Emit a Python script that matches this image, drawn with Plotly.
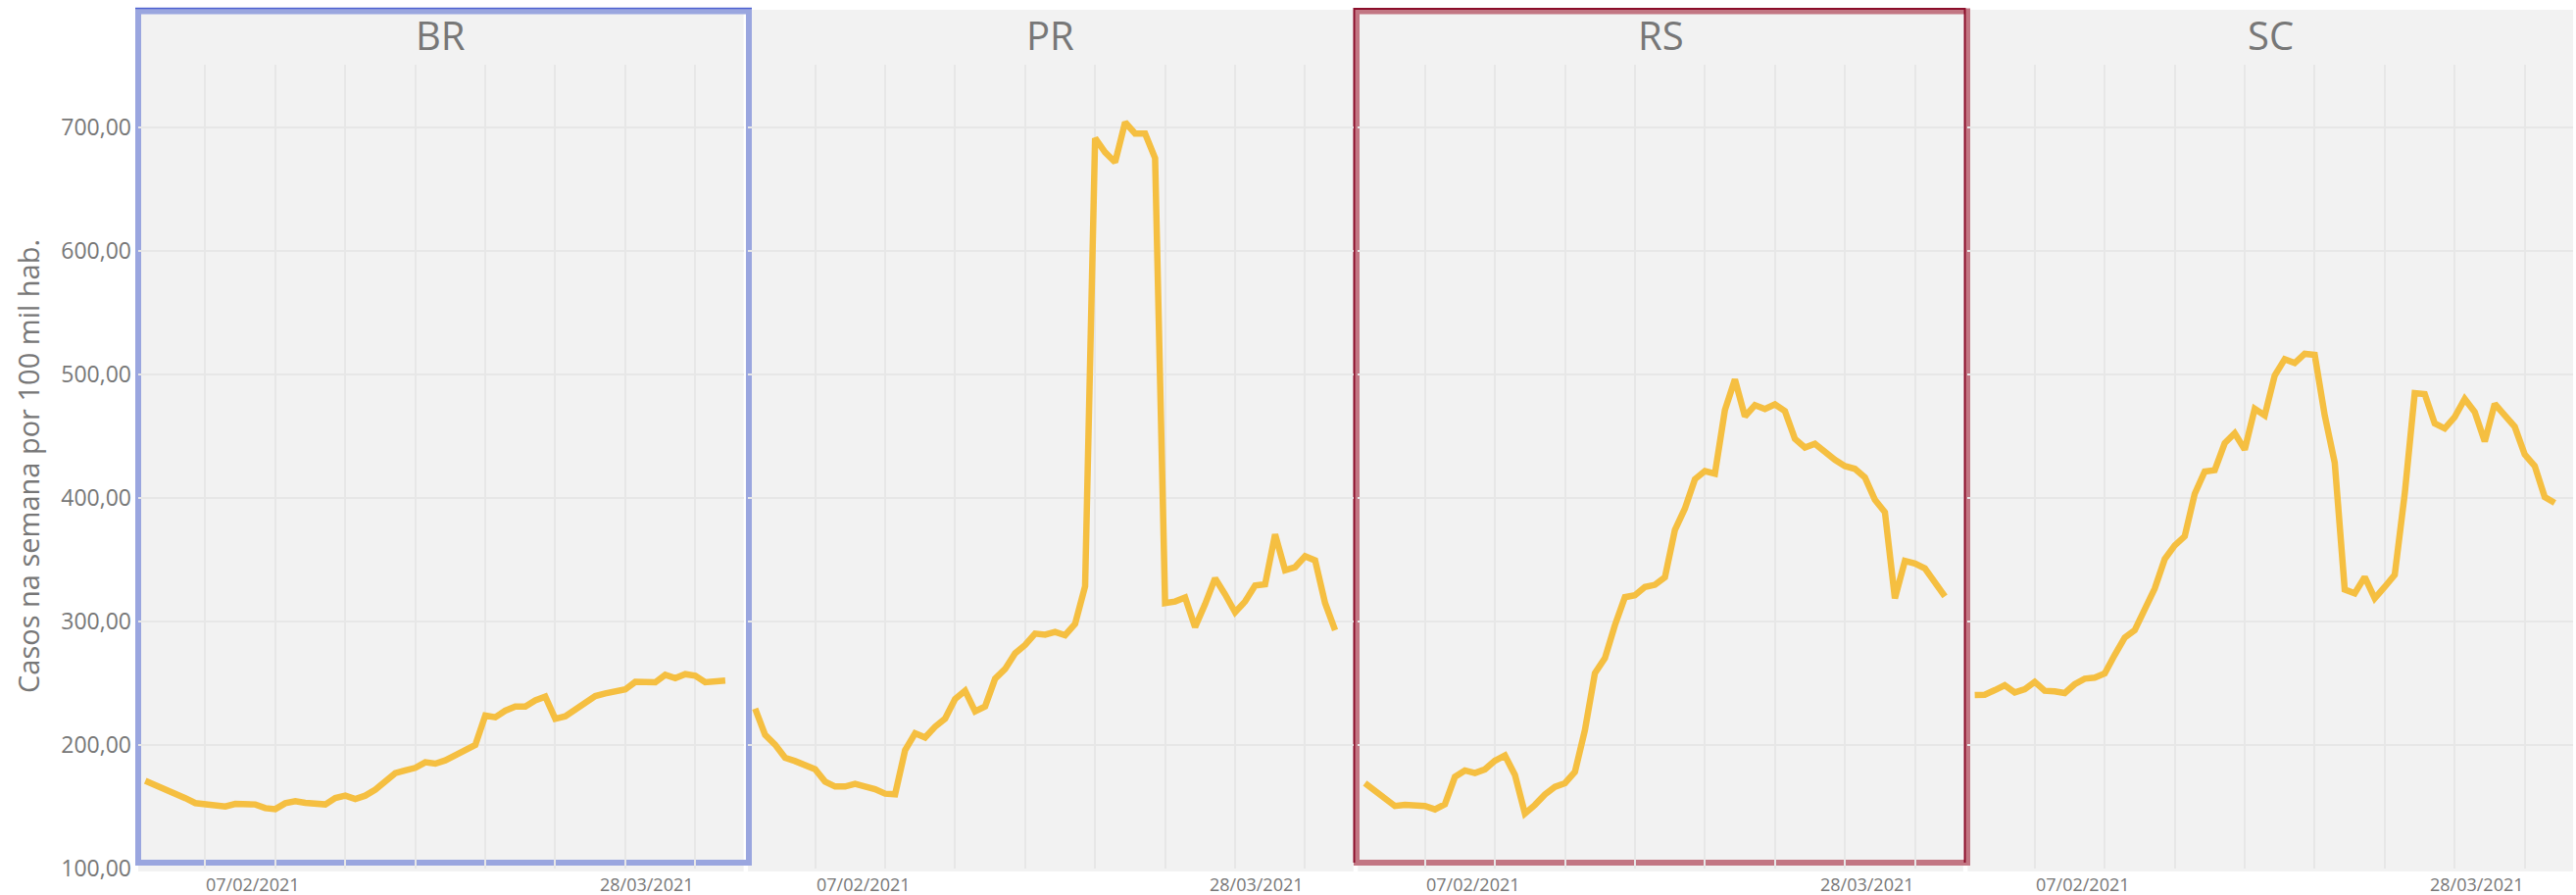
import plotly.graph_objects as go
import pandas as pd

# casos na semana por 100 mil habitantes, serie diaria 01/02/2021 a 31/03/2021
datas = pd.date_range("2021-02-01", "2021-03-31", freq="D")
estados = ["BR", "PR", "RS", "SC"]

casos_br = [171.0, 167.5, 164.3, 161.5, 157.0, 153.0, 152.5, 151.9, 150.3, 152.4,
            151.6, 151.9, 148.9, 148.1, 152.9, 154.5, 153.2, 151.9, 151.9, 157.1,
            159.0, 156.3, 159.0, 163.8, 170.4, 177.2, 179.4, 181.5, 186.0, 184.9,
            187.6, 191.5, 196.0, 200.0, 223.8, 222.5, 227.8, 231.2, 231.2, 236.2,
            239.2, 221.2, 223.3, 229.1, 234.4, 239.7, 241.8, 243.1, 245.0, 251.1,
            250.8, 250.8, 256.9, 254.2, 257.4, 256.1, 250.8, 251.6, 252.1]
casos_pr = [229.4, 208.2, 200.3, 189.7, 187.0, 183.1, 180.4, 170.4, 166.4, 166.4,
            168.5, 166.4, 164.3, 160.6, 160.1, 195.8, 209.5, 206.1, 214.8, 221.4,
            237.3, 243.9, 227.2, 231.2, 253.7, 261.6, 274.3, 281.0, 290.2, 289.4,
            291.5, 288.9, 298.1, 328.5, 691.3, 679.9, 671.8, 704.2, 695.1, 695.1,
            675.1, 314.9, 316.2, 319.4, 295.5, 314.0, 335.0, 322.0, 307.5, 316.2,
            329.1, 330.1, 370.6, 341.5, 344.0, 352.8, 349.5, 314.9, 292.9]
casos_rs = [169.1, 162.7, 156.1, 150.6, 151.5, 151.2, 150.6, 147.9, 152.1, 174.2,
            179.4, 177.3, 180.3, 187.3, 191.5, 175.8, 144.5, 151.5, 160.0, 166.1,
            169.1, 178.2, 212.1, 258.2, 270.3, 297.0, 319.7, 321.2, 327.9, 329.7,
            335.8, 374.2, 391.5, 415.2, 421.8, 419.7, 471.2, 496.0, 466.1, 475.2,
            472.1, 475.8, 470.3, 447.9, 440.9, 443.9, 437.0, 430.9, 425.8, 423.6,
            416.7, 398.5, 388.5, 318.8, 349.1, 347.0, 343.0, 330.9, 320.3]
casos_sc = [240.5, 240.7, 244.4, 248.4, 242.6, 245.2, 251.1, 243.9, 243.4, 242.1,
            249.2, 253.7, 254.5, 257.9, 273.0, 287.0, 292.9, 310.8, 326.7, 350.5,
            361.6, 369.0, 403.4, 421.4, 422.5, 444.4, 452.4, 439.2, 472.2, 466.9,
            499.2, 512.4, 509.3, 516.7, 515.9, 466.9, 428.6, 325.9, 322.8, 336.0,
            318.8, 328.0, 337.8, 403.4, 484.9, 484.1, 460.3, 456.3, 465.6, 480.2,
            469.6, 445.8, 476.2, 466.9, 457.7, 435.2, 425.9, 400.8, 396.0]
series = [casos_br, casos_pr, casos_rs, casos_sc]

y_ticks = [100, 200, 300, 400, 500, 600, 700]
x_labels = [("2021-02-07", "07/02/2021", "left"), ("2021-03-28", "28/03/2021", "right")]

# geometria (pixels)
W, H = 2628, 913
ML, MR, MT, MB = 141, 3, 66, 27
PW, PH = W - ML - MR, H - MT - MB
GAP = 4.5
PANEL_W = (PW - 3 * GAP) / 4


def fx(px):
    return (px - ML) / PW


def fy(py):
    return (H - MB - py) / PH


AMARELO = "#F5BF41"
CINZA_FUNDO = "#F2F2F2"
GRADE = "#E7E7E7"
TEXTO = "#777777"
FONTE = "Open Sans"

fig = go.Figure()
shapes = []
annotations = []
layout_axes = {}

for i, (uf, vals) in enumerate(zip(estados, series)):
    s = "" if i == 0 else str(i + 1)
    x0 = i * (PANEL_W + GAP) / PW
    x1 = x0 + PANEL_W / PW

    fig.add_trace(go.Scatter(x=datas, y=vals, mode="lines", name=uf,
                             line=dict(color=AMARELO, width=6.5),
                             xaxis="x" + s, yaxis="y" + s, showlegend=False))

    layout_axes["xaxis" + s] = dict(
        domain=[x0, x1], anchor="y" + s, type="date",
        range=["2021-01-31 07:00", "2021-04-01 20:00"],
        tick0="2021-02-07", dtick=7 * 24 * 3600 * 1000,
        showgrid=True, gridcolor=GRADE, gridwidth=2,
        showticklabels=False, ticks="", zeroline=False, showline=False,
        automargin=False)
    layout_axes["yaxis" + s] = dict(
        domain=[0, 1], anchor="x" + s, range=[100, 750.8],
        tickvals=y_ticks, tickformat=".2f", showticklabels=(i == 0),
        showgrid=True, gridcolor=GRADE, gridwidth=2,
        zeroline=False, showline=False, ticks="", automargin=False,
        ticklabelstandoff=6,
        tickfont=dict(family=FONTE, size=23, color=TEXTO))

    # fundo cinza do painel (inclui faixa do titulo)
    shapes.append(dict(type="rect", xref="paper", yref="paper", layer="below",
                       x0=x0, x1=x1, y0=fy(889), y1=fy(10),
                       fillcolor=CINZA_FUNDO, line=dict(width=0)))

    annotations.append(dict(text=uf, xref="paper", yref="paper",
                            x=(x0 + x1) / 2, y=fy(36), showarrow=False,
                            xanchor="center", yanchor="middle",
                            font=dict(family=FONTE, size=40, color=TEXTO)))
    for d, txt, anc in x_labels:
        annotations.append(dict(text=txt, xref="x" + s, yref="paper", x=d, y=fy(902),
                                showarrow=False, xanchor=anc, yanchor="middle",
                                borderpad=0,
                                font=dict(family=FONTE, size=18, color=TEXTO)))

# titulo do eixo y
annotations.append(dict(text="Casos na semana por 100 mil hab.", xref="paper", yref="paper",
                        x=fx(28), y=0.5, textangle=-90, showarrow=False,
                        xanchor="center", yanchor="middle",
                        font=dict(family=FONTE, size=29, color=TEXTO)))

# bordas de destaque (BR azul, RS vermelho)
shapes.append(dict(type="rect", xref="paper", yref="paper", layer="below",
                   x0=fx(141), x1=fx(764), y0=fy(880), y1=fy(11.5),
                   line=dict(color="#9AA6DF", width=6)))
shapes.append(dict(type="path", xref="paper", yref="paper", layer="below",
                   path=f"M {fx(138)},{fy(8.5)} L {fx(767)},{fy(8.5)}",
                   line=dict(color="#4F62D0", width=1.5)))
shapes.append(dict(type="rect", xref="paper", yref="paper", layer="below",
                   x0=fx(1384), x1=fx(2007), y0=fy(880), y1=fy(11.5),
                   line=dict(color="#C27683", width=6)))
shapes.append(dict(type="path", xref="paper", yref="paper", layer="below",
                   path=(f"M {fx(1381.5)},{fy(880)} L {fx(1381.5)},{fy(9)} "
                         f"L {fx(2004.5)},{fy(9)} L {fx(2004.5)},{fy(880)}"),
                   line=dict(color="#8B0E2B", width=2)))

fig.update_layout(
    width=W, height=H,
    margin=dict(l=ML, r=MR, t=MT, b=MB, autoexpand=False),
    paper_bgcolor="white", plot_bgcolor="rgba(0,0,0,0)",
    separators=",.",
    shapes=shapes, annotations=annotations,
    font=dict(family=FONTE, color=TEXTO),
    **layout_axes)

# sem a margem padrao do <body>, o grafico ocupa a janela exatamente
fig.write_html("out.html", config={"displayModeBar": False},
               post_script="document.body.style.margin='0';")
